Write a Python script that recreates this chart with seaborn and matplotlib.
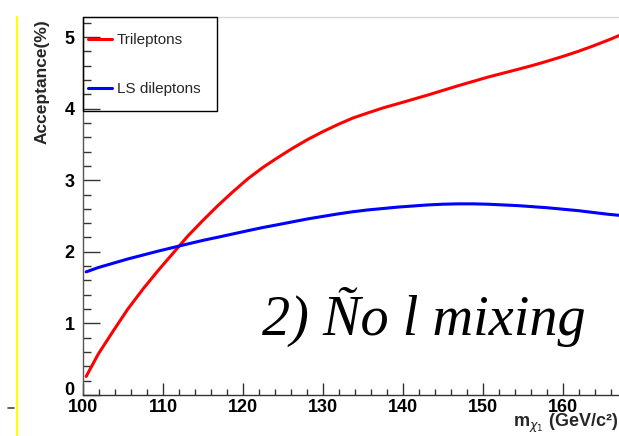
import matplotlib
matplotlib.use("Agg")
import matplotlib.pyplot as plt
import seaborn as sns
from matplotlib.lines import Line2D
from matplotlib.patches import Rectangle
from matplotlib.ticker import MultipleLocator
from matplotlib.transforms import ScaledTranslation

# ---- data ----
mass = [100.4, 101.9, 103.75, 105.6, 107.5, 109.4, 111.25, 113.1, 115.0, 116.9, 118.75, 120.6,
        122.5, 124.4, 126.25, 128.1, 130.0, 131.9, 133.75, 135.6, 137.5, 139.4, 141.25, 143.1,
        145.0, 146.9, 148.75, 150.6, 152.5, 154.4, 156.25, 158.1, 160.0, 161.9, 163.75, 165.6, 167.0]
acc_tri = [0.26, 0.57, 0.89, 1.20, 1.48, 1.74, 1.98, 2.22, 2.44, 2.65, 2.84, 3.02, 3.18, 3.32, 3.45,
           3.57, 3.68, 3.78, 3.87, 3.94, 4.01, 4.07, 4.13, 4.19, 4.255, 4.32, 4.38, 4.44, 4.495, 4.55,
           4.605, 4.665, 4.73, 4.80, 4.875, 4.955, 5.02]
acc_ls = [1.72, 1.78, 1.84, 1.90, 1.955, 2.01, 2.06, 2.11, 2.16, 2.205, 2.25, 2.295, 2.34, 2.38, 2.42,
          2.46, 2.495, 2.53, 2.56, 2.585, 2.605, 2.625, 2.64, 2.655, 2.665, 2.67, 2.67, 2.665, 2.655, 2.645,
          2.63, 2.615, 2.595, 2.575, 2.55, 2.525, 2.51]
series_names = ["Trileptons", "LS dileptons"]
x_ticks = [100, 110, 120, 130, 140, 150, 160]
y_ticks = [0, 1, 2, 3, 4, 5]

sns.set_style("ticks")
plt.rcParams['font.family'] = ['Liberation Sans', 'DejaVu Sans']

W, H = 619, 436
fig = plt.figure(figsize=(W / 100, H / 100), dpi=100)
ax_l, ax_b, ax_t = 83, 395, 17
ax = fig.add_axes([ax_l / W, (H - ax_b) / H, (W - ax_l) / W, (ax_b - ax_t) / H])

sns.lineplot(x=mass, y=acc_tri, ax=ax, color="#ff0000", linewidth=2.2, label=series_names[0])
sns.lineplot(x=mass, y=acc_ls, ax=ax, color="#0000ff", linewidth=2.2, label=series_names[1])

ax.set_xlim(100, 167)
ax.set_ylim(0, 5.28)
ax.set_xticks(x_ticks)
ax.set_yticks(y_ticks)
ax.xaxis.set_minor_locator(MultipleLocator(2))
ax.yaxis.set_minor_locator(MultipleLocator(0.2))
ax.tick_params(axis='both', which='both', direction='in', colors='#333333', width=1.0)
ax.tick_params(axis='y', which='major', length=12, labelsize=13, pad=6)
ax.tick_params(axis='y', which='minor', length=6)
ax.tick_params(axis='x', which='major', length=8.5, labelsize=13, pad=3)
ax.tick_params(axis='x', which='minor', length=4.3)
for lab in ax.get_xticklabels() + ax.get_yticklabels():
    lab.set_fontweight('bold')
    lab.set_color('black')
# the "0" label sits a little higher in the reference
zero_lab = ax.get_yticklabels()[0]
zero_lab.set_transform(zero_lab.get_transform() + ScaledTranslation(0, 5 / 72, fig.dpi_scale_trans))
ax.set_xlabel("")
ax.set_ylabel("")
ax.spines['right'].set_visible(False)
ax.spines['top'].set_color('#d8d8d8')
ax.spines['left'].set_color('#555555')
ax.spines['bottom'].set_color('#333333')
for s in ax.spines.values():
    s.set_linewidth(1.0)

# legend box
bw = (217 - ax_l) / (W - ax_l)
bh = (111 - ax_t) / (ax_b - ax_t)
ax.add_patch(Rectangle((0, 1 - bh), bw, bh, transform=ax.transAxes, fill=False,
                       edgecolor='black', linewidth=1.0, clip_on=False, zorder=5))
ax.legend(loc='upper left', bbox_to_anchor=(5 / (W - ax_l), 1 - 16 / (ax_b - ax_t)),
          frameon=False, fontsize=11, borderpad=0, borderaxespad=0,
          handlelength=1.55, handletextpad=0.35, labelspacing=2.3)

# annotation
ax.text(262 / W, (H - 335) / H, "2) Ño l mixing", transform=fig.transFigure,
        fontsize=40.5, fontstyle='italic', family=['Liberation Serif', 'DejaVu Serif'],
        ha='left', va='baseline', color='black')

# axis titles
fig.text(42 / W, 1 - 19 / H, "Acceptance(%)", rotation=90, ha='center', va='top',
         fontsize=12.5, fontweight='bold')
fig.text(618 / W, 1 - 435 / H, "m$_{\\chi_1}$ (GeV/c²)", ha='right',
         va='bottom', fontsize=13, fontweight='bold')

# decorations at the left edge
fig.add_artist(Line2D([17 / W, 17 / W], [0, 1 - 17 / H], transform=fig.transFigure,
                      color='#ffff00', linewidth=1.6))
fig.add_artist(Line2D([8 / W, 14 / W], [1 - 408 / H, 1 - 408 / H], transform=fig.transFigure,
                      color='#444444', linewidth=1.2))

fig.savefig("out.png", dpi=100)
